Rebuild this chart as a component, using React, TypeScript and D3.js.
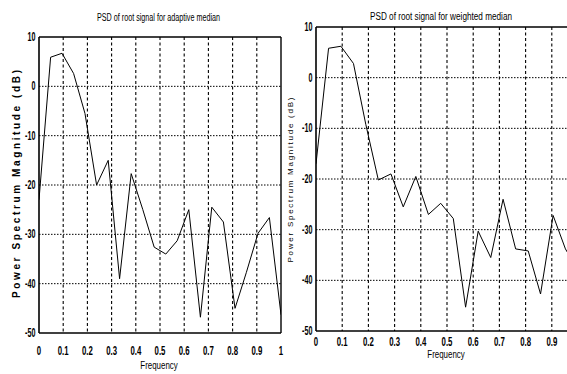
import * as d3 from 'd3';

// frequency samples (normalised)
const freqs = [0, 0.048, 0.095, 0.143, 0.19, 0.238, 0.286, 0.333, 0.381, 0.429, 0.476, 0.524, 0.571, 0.619, 0.667, 0.714, 0.762, 0.81, 0.857, 0.905, 0.952, 1.0];

const adaptivePsd = [-23, 5.9, 6.7, 2.6, -5.5, -20, -15, -39, -17.7, -25, -32.6, -34, -31.3, -25, -46.8, -24.5, -27.5, -45, -37.7, -29.8, -26.6, -46.3];
const weightedPsd = [-17, 5.8, 6.2, 2.8, -9.2, -20.2, -19, -25.5, -19.5, -27, -24.8, -27.8, -45.3, -30.3, -35.5, -24, -33.8, -34.2, -42.7, -27.2, -33.8, -38];

const xTicks = [0, 0.1, 0.2, 0.3, 0.4, 0.5, 0.6, 0.7, 0.8, 0.9, 1];
const yTicks = [10, 0, -10, -20, -30, -40, -50];

const titles = ['PSD of root signal for adaptive median', 'PSD of root signal for weighted median'];

const font = 'Liberation Sans, Arial, sans-serif';

interface PanelProps {
  values: number[];
  title: string;
  x0: number;
  x1: number;
  y0: number;
  y1: number;
  titleX: number;
  titleW: number;
  titleY: number;
  ylabX: number;
  ylabY: number;
  ylabLen: number;
  ylabSize: number;
  ylabWeight: string;
  xlabY: number;
  xTickY: number;
  clipId: string;
}

function Panel(p: PanelProps) {
  const x = d3.scaleLinear().domain([0, 1]).range([p.x0, p.x1]);
  const y = d3.scaleLinear().domain([-50, 10]).range([p.y1, p.y0]);
  const line = d3
    .line<number>()
    .x((_, i) => x(freqs[i]))
    .y((d) => y(d));
  const right = Math.min(p.x1, 567);

  return (
    <g>
      <defs>
        <clipPath id={p.clipId}>
          <rect x={p.x0} y={p.y0} width={right - p.x0} height={p.y1 - p.y0} />
        </clipPath>
      </defs>
      {/* grid */}
      {xTicks.slice(1, -1).map((t) => (
        <line key={'gx' + t} x1={x(t)} x2={x(t)} y1={p.y0} y2={p.y1} stroke="#000" strokeWidth={1.1} strokeDasharray="3,2.5" />
      ))}
      {yTicks.slice(1, -1).map((t) => (
        <line key={'gy' + t} x1={p.x0} x2={right} y1={y(t)} y2={y(t)} stroke="#000" strokeWidth={1} strokeDasharray="1.5,1.5" />
      ))}
      {/* frame */}
      <line x1={p.x0} x2={right} y1={p.y0} y2={p.y0} stroke="#000" strokeWidth={1.4} />
      <line x1={p.x0} x2={right} y1={p.y1} y2={p.y1} stroke="#000" strokeWidth={1.4} />
      <line x1={p.x0} x2={p.x0} y1={p.y0} y2={p.y1} stroke="#000" strokeWidth={1.6} />
      {p.x1 <= 567 && <line x1={p.x1} x2={p.x1} y1={p.y0} y2={p.y1} stroke="#000" strokeWidth={1.4} />}
      {/* data */}
      <path d={line(p.values) || ''} fill="none" stroke="#000" strokeWidth={1} clipPath={`url(#${p.clipId})`} />
      {/* tick labels */}
      {xTicks.map((t) =>
        x(t) < 567 ? (
          <text key={'tx' + t} transform={`translate(${x(t)},${p.xTickY}) scale(0.6,1)`} textAnchor="middle" fontSize={13} fontWeight="bold" fontFamily={font} fill="#000">
            {String(t)}
          </text>
        ) : null
      )}
      {yTicks.map((t) => (
        <text key={'ty' + t} transform={`translate(${p.x0 - 3.5},${y(t) + 4}) scale(0.6,1)`} textAnchor="end" fontSize={12} fontWeight="bold" fontFamily={font} fill="#000">
          {String(t)}
        </text>
      ))}
      {/* titles */}
      <text x={p.titleX} y={p.titleY} fontSize={10} fontFamily={font} textLength={p.titleW} lengthAdjust="spacingAndGlyphs" fill="#000">
        {p.title}
      </text>
      <text transform={`translate(${(p.x0 + Math.min(p.x1, 578)) / 2 - 1},${p.xlabY}) scale(0.72,1)`} textAnchor="middle" fontSize={11} fontFamily={font} fill="#000">
        Frequency
      </text>
      <text
        transform={`translate(${p.ylabX},${p.ylabY}) rotate(-90)`}
        textAnchor="middle"
        fontSize={p.ylabSize}
        fontWeight={p.ylabWeight}
        fontFamily={font}
        textLength={p.ylabLen}
        lengthAdjust="spacing"
        fill="#000"
      >
        Power Spectrum Magnitude (dB)
      </text>
    </g>
  );
}

export default function App() {
  return (
    <svg width={567} height={374} style={{ position: 'absolute', left: 0, top: 0, background: '#fff' }}>
      <rect width={567} height={374} fill="#fff" />
      <Panel
        values={adaptivePsd}
        title={titles[0]}
        x0={39}
        x1={281}
        y0={37}
        y1={333}
        titleX={97}
        titleW={123}
        titleY={21}
        ylabX={20}
        ylabY={184}
        ylabLen={228}
        ylabSize={10}
        ylabWeight="bold"
        xlabY={369}
        xTickY={355}
        clipId="clipA"
      />
      <Panel
        values={weightedPsd}
        title={titles[1]}
        x0={316}
        x1={578}
        y0={27}
        y1={331}
        titleX={370}
        titleW={142}
        titleY={20}
        ylabX={293}
        ylabY={180}
        ylabLen={165}
        ylabSize={8}
        ylabWeight="normal"
        xlabY={358}
        xTickY={346}
        clipId="clipB"
      />
    </svg>
  );
}
